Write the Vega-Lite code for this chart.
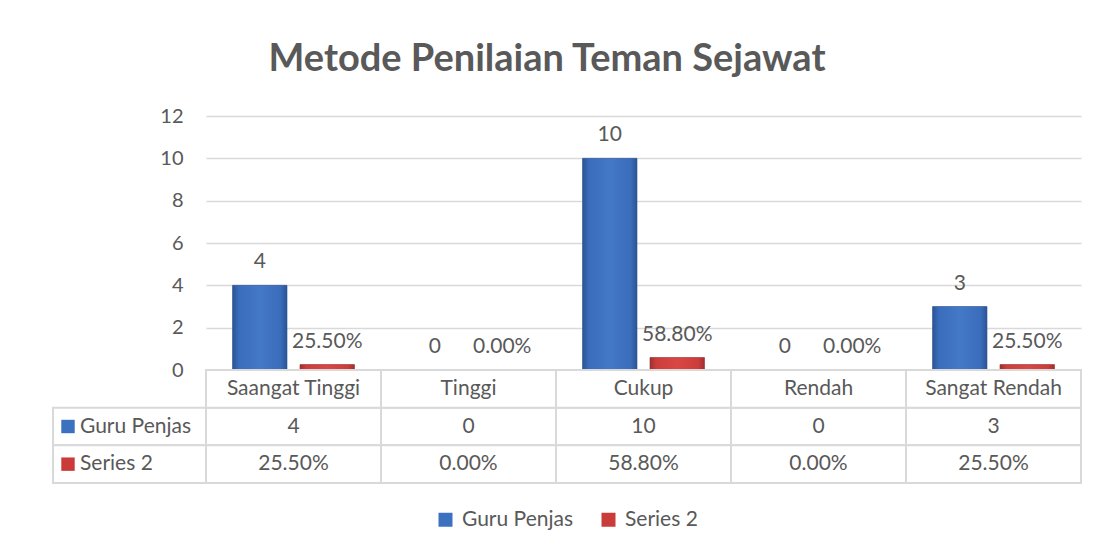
{
  "$schema": "https://vega.github.io/schema/vega-lite/v6.json",
  "background": "white",
  "padding": {"left": 52, "top": 41, "right": 16, "bottom": 10},
  "title": {
    "text": "Metode Penilaian Teman Sejawat",
    "font": "Lato",
    "fontSize": 38,
    "fontWeight": "bold",
    "color": "#595959",
    "anchor": "middle",
    "dx": -20,
    "offset": 27
  },
  "datasets": {
    "main": [
      {"cat": "Saangat Tinggi", "series": "Guru Penjas", "value": 4},
      {"cat": "Saangat Tinggi", "series": "Series 2", "value": 0.255},
      {"cat": "Tinggi", "series": "Guru Penjas", "value": 0},
      {"cat": "Tinggi", "series": "Series 2", "value": 0},
      {"cat": "Cukup", "series": "Guru Penjas", "value": 10},
      {"cat": "Cukup", "series": "Series 2", "value": 0.588},
      {"cat": "Rendah", "series": "Guru Penjas", "value": 0},
      {"cat": "Rendah", "series": "Series 2", "value": 0},
      {"cat": "Sangat Rendah", "series": "Guru Penjas", "value": 3},
      {"cat": "Sangat Rendah", "series": "Series 2", "value": 0.255}
    ],
    "rows": [
      {"series": "Guru Penjas"},
      {"series": "Series 2"}
    ]
  },
  "columns": 2,
  "spacing": 0,
  "bounds": "flush",
  "align": "each",
  "concat": [
    {
      "width": 153,
      "height": 254,
      "data": {"values": [{}]},
      "mark": {"type": "text", "text": ""},
      "encoding": {}
    },
    {
      "width": 875,
      "height": 254,
      "data": {"name": "main"},
      "transform": [
        {"calculate": "datum.series === 'Series 2' ? format(datum.value, '.2%') : format(datum.value, 'd')", "as": "label"}
      ],
      "encoding": {
        "x": {
          "field": "cat", "type": "nominal",
          "sort": ["Saangat Tinggi", "Tinggi", "Cukup", "Rendah", "Sangat Rendah"],
          "scale": {"paddingInner": 0, "paddingOuter": 0},
          "axis": null
        },
        "xOffset": {
          "field": "series", "type": "nominal",
          "scale": {"domain": ["Guru Penjas", "Series 2"], "paddingInner": 0.193, "paddingOuter": 0.393}
        },
        "y": {
          "field": "value", "type": "quantitative",
          "scale": {"domain": [0, 12], "nice": false},
          "axis": {
            "values": [0, 2, 4, 6, 8, 10, 12],
            "title": null,
            "domain": false,
            "ticks": false,
            "labelPadding": 23,
            "labelFontSize": 20,
            "labelColor": "#595959",
            "gridColor": "#D9D9D9",
            "gridWidth": 1.5
          }
        }
      },
      "layer": [
        {
          "transform": [{"filter": "datum.series === 'Guru Penjas'"}],
          "mark": {
            "type": "bar", "stroke": "#2A4F8C", "strokeWidth": 0.6,
            "color": {"gradient": "linear", "x1": 0, "y1": 0, "x2": 1, "y2": 0, "stops": [
              {"offset": 0, "color": "#2A5595"},
              {"offset": 0.12, "color": "#3A6DBB"},
              {"offset": 0.5, "color": "#4479C8"},
              {"offset": 0.88, "color": "#3A6DBB"},
              {"offset": 1, "color": "#2A5595"}
            ]}
          }
        },
        {
          "transform": [{"filter": "datum.series === 'Series 2'"}],
          "mark": {
            "type": "bar", "stroke": "#8E2A28", "strokeWidth": 0.6,
            "color": {"gradient": "linear", "x1": 0, "y1": 0, "x2": 1, "y2": 0, "stops": [
              {"offset": 0, "color": "#A32E2C"},
              {"offset": 0.12, "color": "#CC3E3B"},
              {"offset": 0.5, "color": "#DA4643"},
              {"offset": 0.88, "color": "#CC3E3B"},
              {"offset": 1, "color": "#A32E2C"}
            ]}
          }
        },
        {
          "mark": {"type": "text", "baseline": "alphabetic", "dy": -17, "fontSize": 21, "color": "#595959"},
          "encoding": {"text": {"field": "label"}}
        }
      ]
    },
    {
      "width": 153,
      "height": 113,
      "data": {"name": "rows"},
      "encoding": {
        "y": {
          "field": "series", "type": "nominal",
          "scale": {"domain": ["hdr", "Guru Penjas", "Series 2"], "paddingInner": 0, "paddingOuter": 0},
          "axis": null
        }
      },
      "layer": [
        {
          "mark": {"type": "rect", "fill": "white", "stroke": "#D9D9D9", "strokeWidth": 2}
        },
        {
          "mark": {"type": "point", "shape": "square", "filled": true, "size": 180, "opacity": 1},
          "encoding": {
            "x": {"value": 15},
            "color": {
              "field": "series", "type": "nominal",
              "scale": {"domain": ["Guru Penjas", "Series 2"], "range": ["#3C71BF", "#C93C3A"]},
              "legend": {
                "orient": "none",
                "legendX": 382,
                "legendY": 393,
                "direction": "horizontal",
                "title": null,
                "symbolType": "square",
                "symbolSize": 196,
                "symbolStrokeWidth": 0,
                "labelFontSize": 21,
                "labelColor": "#595959",
                "labelOffset": 6,
                "columnPadding": 24
              }
            }
          }
        },
        {
          "mark": {"type": "text", "align": "left", "baseline": "middle", "fontSize": 21, "color": "#595959"},
          "encoding": {
            "x": {"value": 27},
            "text": {"field": "series"}
          }
        }
      ]
    },
    {
      "width": 875,
      "height": 113,
      "data": {"name": "main"},
      "transform": [
        {"calculate": "datum.series === 'Series 2' ? format(datum.value, '.2%') : format(datum.value, 'd')", "as": "label"}
      ],
      "encoding": {
        "x": {
          "field": "cat", "type": "nominal",
          "sort": ["Saangat Tinggi", "Tinggi", "Cukup", "Rendah", "Sangat Rendah"],
          "scale": {"paddingInner": 0, "paddingOuter": 0},
          "axis": null
        }
      },
      "layer": [
        {
          "mark": {"type": "rect", "fill": "white", "stroke": "#D9D9D9", "strokeWidth": 2},
          "encoding": {
            "y": {
              "field": "series", "type": "nominal",
              "scale": {"domain": ["hdr", "Guru Penjas", "Series 2"], "paddingInner": 0, "paddingOuter": 0},
              "axis": null
            }
          }
        },
        {
          "transform": [{"filter": "datum.series === 'Guru Penjas'"}],
          "mark": {"type": "rect", "fill": "white", "stroke": "#D9D9D9", "strokeWidth": 2},
          "encoding": {"y": {"datum": "hdr", "type": "nominal"}}
        },
        {
          "mark": {"type": "text", "baseline": "middle", "fontSize": 21, "color": "#595959"},
          "encoding": {
            "y": {"field": "series", "type": "nominal"},
            "text": {"field": "label"}
          }
        },
        {
          "transform": [{"filter": "datum.series === 'Guru Penjas'"}],
          "mark": {"type": "text", "baseline": "middle", "fontSize": 21, "color": "#595959"},
          "encoding": {
            "y": {"datum": "hdr", "type": "nominal"},
            "text": {"field": "cat"}
          }
        }
      ]
    }
  ],
  "config": {
    "font": "Lato",
    "view": {"stroke": null},
    "axis": {"labelFont": "Lato"},
    "legend": {"labelFont": "Lato"}
  }
}
